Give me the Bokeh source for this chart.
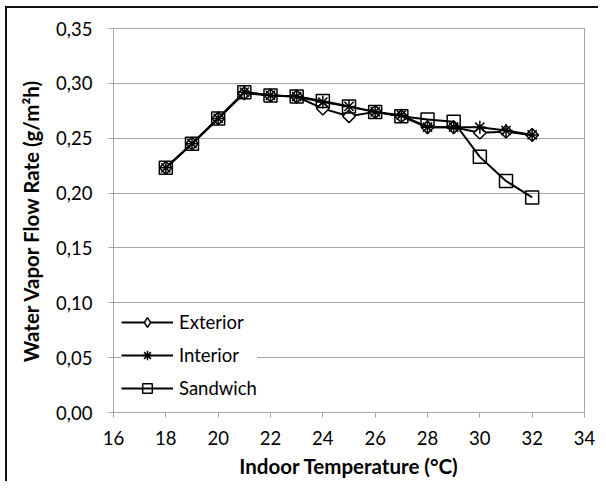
from bokeh.plotting import figure
from bokeh.models import (FixedTicker, CustomJSTickFormatter, Legend, LegendItem,
                          ColumnDataSource, InlineStyleSheet)
from bokeh.embed import file_html
from bokeh.resources import INLINE
import math

temperature = [18, 19, 20, 21, 22, 23, 24, 25, 26, 27, 28, 29, 30, 31, 32]
exterior = [0.223, 0.245, 0.268, 0.291, 0.289, 0.288, 0.277, 0.270, 0.274, 0.270, 0.260, 0.260, 0.255, 0.256, 0.253]
interior = [0.223, 0.245, 0.268, 0.292, 0.289, 0.288, 0.283, 0.279, 0.274, 0.271, 0.260, 0.260, 0.260, 0.257, 0.253]
sandwich = [0.223, 0.245, 0.268, 0.292, 0.289, 0.288, 0.284, 0.279, 0.274, 0.270, 0.267, 0.265, 0.233, 0.211, 0.196]
x_ticks = [16, 18, 20, 22, 24, 26, 28, 30, 32, 34]
y_ticks = [0.0, 0.05, 0.10, 0.15, 0.20, 0.25, 0.30, 0.35]
series_names = ["Exterior", "Interior", "Sandwich"]

FONT = "Lato"
GRID = "#a6a6a6"

p = figure(frame_width=471, frame_height=384, x_range=(16, 34), y_range=(0, 0.35),
           output_backend="svg", toolbar_location=None,
           min_border_left=113, min_border_right=14, min_border_top=28, min_border_bottom=69)
# chart-area border (left and top edges visible, as in the reference) drawn behind a transparent canvas
p.stylesheets = [InlineStyleSheet(css=(
    ":host { background: "
    "linear-gradient(#111,#111) 5px 6px / 2px calc(100% - 6px) no-repeat, "
    "linear-gradient(#111,#111) 5px 6px / calc(100% - 5px) 2px no-repeat, #fff; }"))]
p.background_fill_color = "white"
p.border_fill_alpha = 0
p.outline_line_color = GRID
p.outline_line_width = 1

p.xgrid.visible = False
p.ygrid.grid_line_color = GRID
p.ygrid.grid_line_width = 1
p.ygrid.ticker = FixedTicker(ticks=y_ticks)

for ax in (p.xaxis[0], p.yaxis[0]):
    ax.axis_line_color = GRID
    ax.major_tick_line_color = GRID
    ax.major_tick_in = 0
    ax.major_tick_out = 5
    ax.minor_tick_line_color = None
    ax.major_label_text_font = FONT
    ax.major_label_text_font_size = "18.5px"
    ax.major_label_text_color = "black"
    ax.axis_label_text_font = FONT
    ax.axis_label_text_font_style = "bold"
    ax.axis_label_text_font_size = "20.5px"
    ax.axis_label_text_color = "black"

p.xaxis.ticker = FixedTicker(ticks=x_ticks)
p.yaxis.ticker = FixedTicker(ticks=y_ticks)
p.yaxis.formatter = CustomJSTickFormatter(code="return tick.toFixed(2).replace('.', ',');")
p.xaxis.axis_label = "Indoor Temperature (°C)"
p.yaxis.axis_label = "Water Vapor Flow Rate (g/m²h)"
p.yaxis.major_label_standoff = 16
p.xaxis.major_label_standoff = 13
p.yaxis.axis_label_standoff = 10
p.xaxis.axis_label_standoff = 6

srcs = [exterior, interior, sandwich]
for name, vals in zip(series_names, srcs):
    src = ColumnDataSource(dict(x=temperature, y=vals))
    p.line("x", "y", source=src, line_color="black", line_width=2)
    if name == "Exterior":
        p.scatter("x", "y", source=src, marker="square", angle=math.pi / 4, size=9,
                  line_color="black", line_width=1.5, fill_color="white")
    elif name == "Interior":
        p.scatter("x", "y", source=src, marker="asterisk", size=13,
                  line_color="black", line_width=1.5)
    else:
        p.scatter("x", "y", source=src, marker="square", size=13,
                  line_color="black", line_width=1.5, fill_color=None)

# legend-only renderers (a single NaN placeholder, nothing is drawn in the plot)
nan = float("nan")
legend_markers = {"Exterior": ("diamond", "white"), "Interior": ("asterisk", None),
                  "Sandwich": ("square", None)}
items = []
for name in series_names:
    ph = ColumnDataSource(dict(x=[nan], y=[nan]))
    ln = p.line("x", "y", source=ph, line_color="black", line_width=2)
    mk_name, fill = legend_markers[name]
    mk = p.scatter("x", "y", source=ph, marker=mk_name, size=9,
                   line_color="black", line_width=1.5, fill_color=fill)
    items.append(LegendItem(label=name, renderers=[ln, mk]))

legend = Legend(items=items, location=(8, 8), margin=0, padding=8,
                border_line_color=None, background_fill_color="white", background_fill_alpha=1,
                glyph_width=52, glyph_height=24, label_height=33, spacing=0,
                label_standoff=6, label_text_font=FONT, label_text_font_size="18.5px",
                label_text_color="black")
p.add_layout(legend)

open("out.html", "w").write(file_html(p, INLINE))
